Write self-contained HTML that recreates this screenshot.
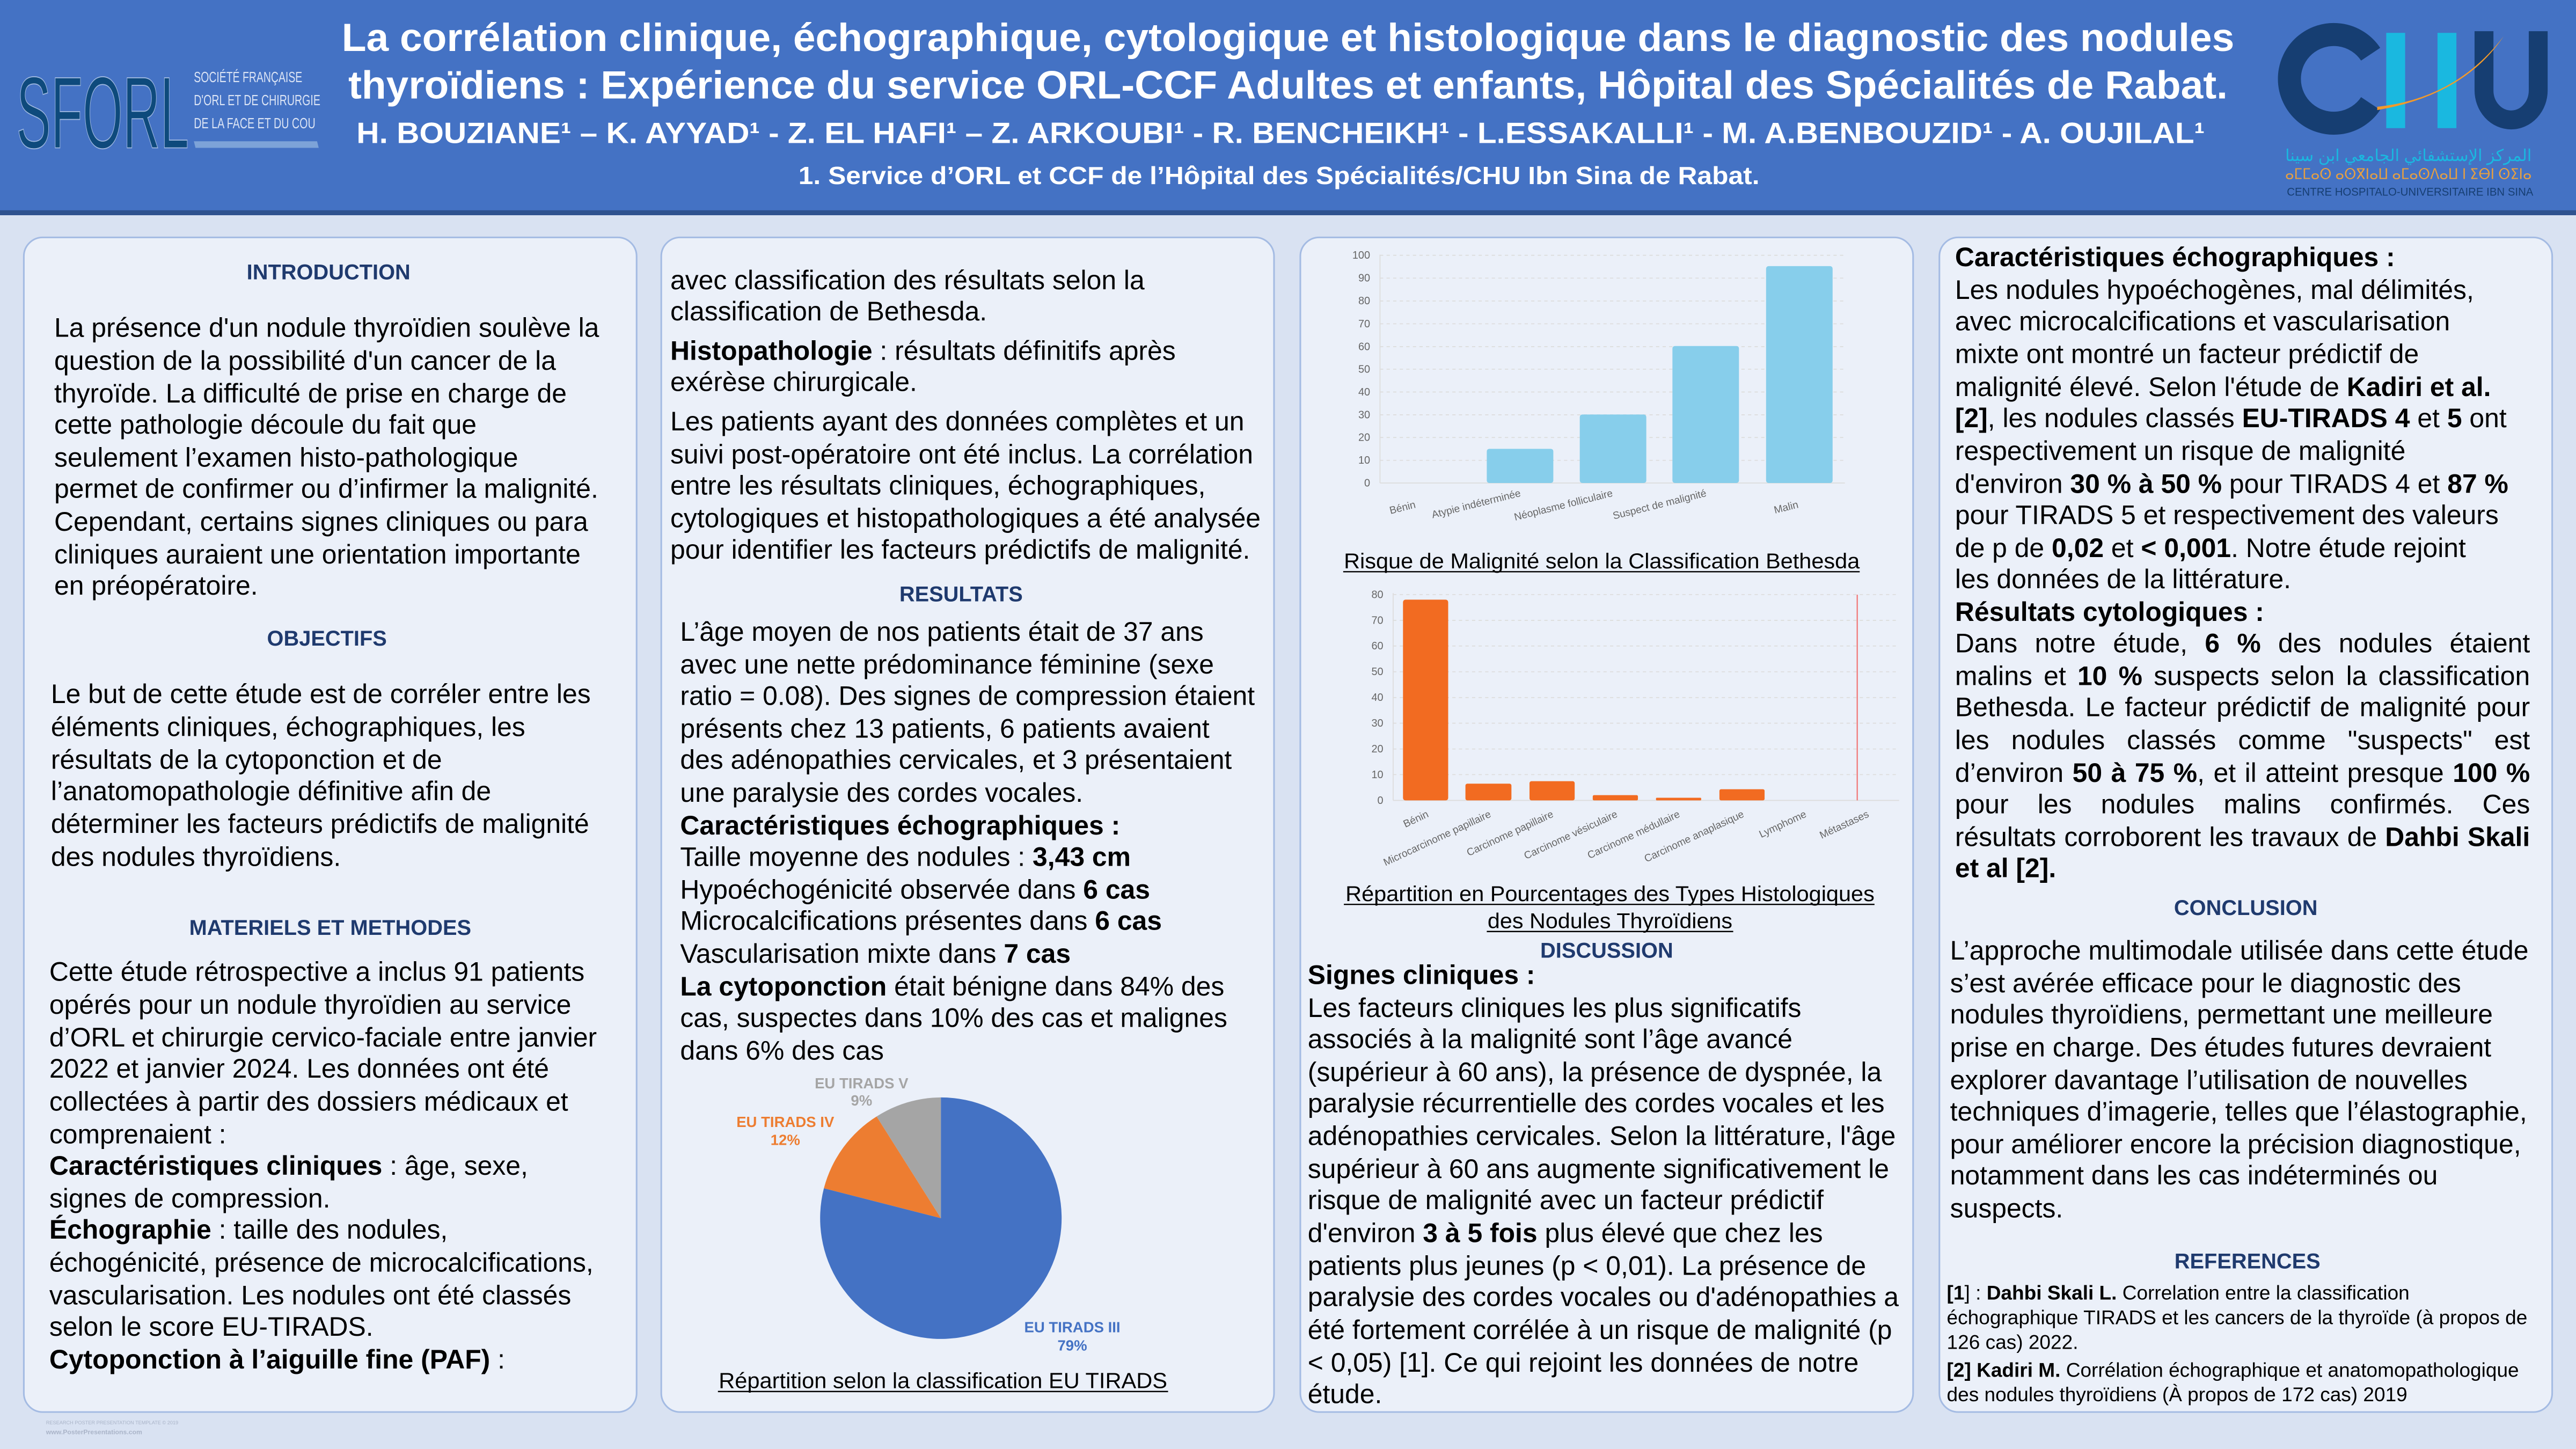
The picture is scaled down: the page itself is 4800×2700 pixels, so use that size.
<!DOCTYPE html>
<html><head><meta charset="utf-8">
<style>
html,body{margin:0;padding:0;width:4800px;height:2700px;overflow:hidden;background:#d9e2f2;}
#w{position:absolute;left:0;top:0;width:1568px;height:882px;transform:scale(3.0612245);transform-origin:0 0;font-family:"Liberation Sans",Arial,sans-serif;color:#000;}
.hdr{position:absolute;left:0;top:0;width:1568px;height:128px;background:#4472c4;border-bottom:3px solid #2f528f;}
.p{position:absolute;top:144px;height:716px;background:#ebf0f9;border:1px solid #a4bbe3;border-radius:12px;box-sizing:border-box;}
.l{position:absolute;white-space:nowrap;font-size:16.3px;line-height:20px;height:20px;}
.h{position:absolute;font-size:13px;font-weight:bold;color:#1f3a6e;line-height:16px;transform:translateX(-50%);white-space:nowrap;}
.j{width:350px;text-align:justify;text-align-last:justify;}
.r{position:absolute;white-space:nowrap;font-size:12.1px;line-height:15px;}
svg text{font-family:"Liberation Sans",Arial,sans-serif;}
</style></head><body><div id="w">
<div class="hdr"></div>
<svg style="position:absolute;left:0;top:0" width="1568" height="130">
 <text x="10" y="90" font-size="62" fill="#0e4a7c" textLength="105" lengthAdjust="spacingAndGlyphs" stroke="#9fb8e0" stroke-width="0.6">SFORL</text>
 <text x="118" y="50" font-size="9" fill="#dbe4f5" textLength="66" lengthAdjust="spacingAndGlyphs">SOCIÉTÉ FRANÇAISE</text>
 <text x="118" y="64" font-size="9" fill="#dbe4f5" textLength="77" lengthAdjust="spacingAndGlyphs">D'ORL ET DE CHIRURGIE</text>
 <text x="118" y="78" font-size="9" fill="#dbe4f5" textLength="74" lengthAdjust="spacingAndGlyphs">DE LA FACE ET DU COU</text>
 <polygon points="118,86 193,86 194,90 119,90" fill="#7da3d8"/>
 <text x="208" y="31" font-size="24" font-weight="bold" fill="#fff" textLength="1152" lengthAdjust="spacingAndGlyphs">La corrélation clinique, échographique, cytologique et histologique dans le diagnostic des nodules</text>
 <text x="212" y="60" font-size="24" font-weight="bold" fill="#fff" textLength="1144" lengthAdjust="spacingAndGlyphs">thyroïdiens : Expérience du service ORL-CCF Adultes et enfants, Hôpital des Spécialités de Rabat.</text>
 <text x="217" y="87" font-size="18" font-weight="bold" fill="#fff" textLength="1125" lengthAdjust="spacingAndGlyphs">H. BOUZIANE¹ – K. AYYAD¹ - Z. EL HAFI¹ – Z. ARKOUBI¹ -  R. BENCHEIKH¹ - L.ESSAKALLI¹ - M. A.BENBOUZID¹ - A. OUJILAL¹</text>
 <text x="486" y="112" font-size="15" font-weight="bold" fill="#fff" textLength="585" lengthAdjust="spacingAndGlyphs">1. Service d’ORL et CCF de l’Hôpital des Spécialités/CHU Ibn Sina de Rabat.</text>
 <path d="M1443,33 A27,27 0 1 0 1443,63" fill="none" stroke="#163e72" stroke-width="14"/>
 <rect x="1452.5" y="20" width="11.5" height="58" fill="#1ab8e0"/>
 <rect x="1483.7" y="20" width="11.5" height="58" fill="#1ab8e0"/>
 <path d="M1512,19 V55 A16.5,18 0 0 0 1545,55 V19" fill="none" stroke="#163e72" stroke-width="11.5"/>
 <path d="M1447,65 Q1495,60 1524,22 Q1500,58 1447,67 Z" fill="#f39a2a"/>
 <text x="1466" y="98" font-size="10" fill="#1ab8e0" text-anchor="middle" textLength="150" lengthAdjust="spacingAndGlyphs">المركز الإستشفائي الجامعي ابن سينا</text>
 <text x="1466" y="109" font-size="9" fill="#e8a040" text-anchor="middle" textLength="150" lengthAdjust="spacingAndGlyphs">ⴰⵎⵎⴰⵙ ⴰⵙⴳⵏⴰⵡ ⴰⵎⴰⵙⴷⴰⵡ ⵏ ⵉⴱⵏ ⵙⵉⵏⴰ</text>
 <text x="1392" y="119" font-size="7" fill="#163e72" textLength="150" lengthAdjust="spacingAndGlyphs">CENTRE HOSPITALO-UNIVERSITAIRE IBN SINA</text>
</svg>

<div class="p" style="left:14px;width:374px"></div>
<div class="p" style="left:402px;width:374px"></div>
<div class="p" style="left:791px;width:374px"></div>
<div class="p" style="left:1180px;width:374px"></div>

<div class="h" style="left:200px;top:158px">INTRODUCTION</div>
<div class="l" style="left:33px;top:190px">La présence d'un nodule thyroïdien soulève la</div>
<div class="l" style="left:33px;top:210px">question de la possibilité d'un cancer de la</div>
<div class="l" style="left:33px;top:230px">thyroïde. La difficulté de prise en charge de</div>
<div class="l" style="left:33px;top:249px">cette pathologie découle du fait que</div>
<div class="l" style="left:33px;top:269px">seulement l’examen histo-pathologique</div>
<div class="l" style="left:33px;top:288px">permet de confirmer ou d’infirmer la malignité.</div>
<div class="l" style="left:33px;top:308px">Cependant, certains signes cliniques ou para</div>
<div class="l" style="left:33px;top:328px">cliniques auraient une orientation importante</div>
<div class="l" style="left:33px;top:347px">en préopératoire.</div>
<div class="h" style="left:199px;top:381px">OBJECTIFS</div>
<div class="l" style="left:31px;top:413px">Le but de cette étude est de corréler entre les</div>
<div class="l" style="left:31px;top:433px">éléments cliniques, échographiques, les</div>
<div class="l" style="left:31px;top:453px">résultats de la cytoponction et de</div>
<div class="l" style="left:31px;top:472px">l’anatomopathologie définitive afin de</div>
<div class="l" style="left:31px;top:492px">déterminer les facteurs prédictifs de malignité</div>
<div class="l" style="left:31px;top:512px">des nodules thyroïdiens.</div>
<div class="h" style="left:201px;top:557px">MATERIELS ET METHODES</div>
<div class="l" style="left:30px;top:582px">Cette étude rétrospective a inclus 91 patients</div>
<div class="l" style="left:30px;top:602px">opérés pour un nodule thyroïdien au service</div>
<div class="l" style="left:30px;top:622px">d’ORL et chirurgie cervico-faciale entre janvier</div>
<div class="l" style="left:30px;top:641px">2022 et janvier 2024. Les données ont été</div>
<div class="l" style="left:30px;top:661px">collectées à partir des dossiers médicaux et</div>
<div class="l" style="left:30px;top:681px">comprenaient :</div>
<div class="l" style="left:30px;top:700px"><b>Caractéristiques cliniques</b> : âge, sexe,</div>
<div class="l" style="left:30px;top:720px">signes de compression.</div>
<div class="l" style="left:30px;top:739px"><b>Échographie</b> : taille des nodules,</div>
<div class="l" style="left:30px;top:759px">échogénicité, présence de microcalcifications,</div>
<div class="l" style="left:30px;top:779px">vascularisation. Les nodules ont été classés</div>
<div class="l" style="left:30px;top:798px">selon le score EU-TIRADS.</div>
<div class="l" style="left:30px;top:818px"><b>Cytoponction à l’aiguille fine (PAF)</b> :</div>
<div style="position:absolute;left:28px;top:864px;font-size:3px;color:#aab4c8;white-space:nowrap">RESEARCH POSTER PRESENTATION TEMPLATE © 2019</div>
<div style="position:absolute;left:28px;top:868.5px;font-size:4px;color:#aab4c8;font-weight:bold;white-space:nowrap">www.PosterPresentations.com</div>

<div class="l" style="left:408px;top:161px">avec classification des résultats selon la</div>
<div class="l" style="left:408px;top:180px">classification de Bethesda.</div>
<div class="l" style="left:408px;top:204px"><b>Histopathologie</b> : résultats définitifs après</div>
<div class="l" style="left:408px;top:223px">exérèse chirurgicale.</div>
<div class="l" style="left:408px;top:247px">Les patients ayant des données complètes et un</div>
<div class="l" style="left:408px;top:267px">suivi post-opératoire ont été inclus. La corrélation</div>
<div class="l" style="left:408px;top:286px">entre les résultats cliniques, échographiques,</div>
<div class="l" style="left:408px;top:306px">cytologiques et histopathologiques a été analysée</div>
<div class="l" style="left:408px;top:325px">pour identifier les facteurs prédictifs de malignité.</div>
<div class="h" style="left:585px;top:354px">RESULTATS</div>
<div class="l" style="left:414px;top:375px">L’âge moyen de nos patients était de 37 ans</div>
<div class="l" style="left:414px;top:395px">avec une nette prédominance féminine (sexe</div>
<div class="l" style="left:414px;top:414px">ratio = 0.08). Des signes de compression étaient</div>
<div class="l" style="left:414px;top:434px">présents chez 13 patients, 6 patients avaient</div>
<div class="l" style="left:414px;top:453px">des adénopathies cervicales, et 3 présentaient</div>
<div class="l" style="left:414px;top:473px">une paralysie des cordes vocales.</div>
<div class="l" style="left:414px;top:493px"><b>Caractéristiques échographiques :</b></div>
<div class="l" style="left:414px;top:512px">Taille moyenne des nodules : <b>3,43 cm</b></div>
<div class="l" style="left:414px;top:532px">Hypoéchogénicité observée dans <b>6 cas</b></div>
<div class="l" style="left:414px;top:551px">Microcalcifications présentes dans <b>6 cas</b></div>
<div class="l" style="left:414px;top:571px">Vascularisation mixte dans <b>7 cas</b></div>
<div class="l" style="left:414px;top:591px"><b>La cytoponction</b> était bénigne dans 84% des</div>
<div class="l" style="left:414px;top:610px">cas, suspectes dans 10% des cas et malignes</div>
<div class="l" style="left:414px;top:630px">dans 6% des cas</div>
<svg style="position:absolute;left:402px;top:640px" width="374" height="220">
 <g transform="translate(-402,-640)">
 <path d="M572.7,741.5 L572.7,668 A73.5,73.5 0 1 1 501.5,723.3 Z" fill="#4472c4"/>
 <path d="M572.7,741.5 L501.5,723.3 A73.5,73.5 0 0 1 533.6,679.6 Z" fill="#ed7d31"/>
 <path d="M572.7,741.5 L533.6,679.6 A73.5,73.5 0 0 1 572.7,668 Z" fill="#a5a5a5"/>
 <g font-size="9" font-weight="bold" text-anchor="middle">
 <text x="524.4" y="662.5" fill="#a5a5a5">EU TIRADS V</text>
 <text x="524.4" y="673" fill="#a5a5a5">9%</text>
 <text x="478" y="686" fill="#ed7d31">EU TIRADS IV</text>
 <text x="478" y="697" fill="#ed7d31">12%</text>
 <text x="652.7" y="811" fill="#4472c4">EU TIRADS III</text>
 <text x="652.7" y="822" fill="#4472c4">79%</text>
 </g>
 <text x="574" y="845" font-size="13.2" text-anchor="middle" textLength="273" lengthAdjust="spacingAndGlyphs">Répartition selon la classification EU TIRADS</text>
 <line x1="437" y1="847" x2="711" y2="847" stroke="#000" stroke-width="0.8"/>
 </g>
</svg>

<svg style="position:absolute;left:791px;top:144px" width="374" height="430">
 <g transform="translate(-791,-144)" font-size="6.5" fill="#666">
  <g stroke="#ddd" stroke-width="0.6" stroke-dasharray="2,2">
   <line x1="840" x2="1123" y1="155.4" y2="155.4"/><line x1="840" x2="1123" y1="169.3" y2="169.3"/><line x1="840" x2="1123" y1="183.2" y2="183.2"/><line x1="840" x2="1123" y1="197.1" y2="197.1"/><line x1="840" x2="1123" y1="211" y2="211"/><line x1="840" x2="1123" y1="224.7" y2="224.7"/><line x1="840" x2="1123" y1="238.6" y2="238.6"/><line x1="840" x2="1123" y1="252.5" y2="252.5"/><line x1="840" x2="1123" y1="266.3" y2="266.3"/><line x1="840" x2="1123" y1="280.2" y2="280.2"/>
  </g>
  <line x1="840" x2="840" y1="155" y2="294" stroke="#ddd" stroke-width="0.6"/>
  <line x1="840" x2="1123" y1="294" y2="294" stroke="#ddd" stroke-width="0.6"/>
  <g text-anchor="end">
   <text x="834" y="157.5">100</text><text x="834" y="171.4">90</text><text x="834" y="185.3">80</text><text x="834" y="199.2">70</text><text x="834" y="213.1">60</text><text x="834" y="226.9">50</text><text x="834" y="240.7">40</text><text x="834" y="254.6">30</text><text x="834" y="268.4">20</text><text x="834" y="282.3">10</text><text x="834" y="296.1">0</text>
  </g>
  <g fill="#87ceeb">
   <rect x="905" y="273.2" width="40.5" height="20.8" rx="1.5"/>
   <rect x="961.6" y="252.3" width="40.5" height="41.7" rx="1.5"/>
   <rect x="1018" y="210.6" width="40.5" height="83.4" rx="1.5"/>
   <rect x="1075" y="162" width="40.5" height="132" rx="1.5"/>
  </g>
  <g font-size="6.3">
   <text transform="translate(862,309) rotate(-14)" text-anchor="end">Bénin</text>
   <text transform="translate(926,302) rotate(-14)" text-anchor="end">Atypie indéterminée</text>
   <text transform="translate(982,302) rotate(-14)" text-anchor="end">Néoplasme folliculaire</text>
   <text transform="translate(1039,302) rotate(-14)" text-anchor="end">Suspect de malignité</text>
   <text transform="translate(1095,309) rotate(-14)" text-anchor="end">Malin</text>
  </g>
  <text x="975" y="346" font-size="13" fill="#000" text-anchor="middle" textLength="314" lengthAdjust="spacingAndGlyphs">Risque de Malignité selon la Classification Bethesda</text>
  <line x1="817.6" x2="1132" y1="348" y2="348" stroke="#000" stroke-width="0.8"/>

  <g stroke="#ddd" stroke-width="0.6" stroke-dasharray="2,2">
   <line x1="848" x2="1156" y1="361.9" y2="361.9"/><line x1="848" x2="1156" y1="377.6" y2="377.6"/><line x1="848" x2="1156" y1="393.2" y2="393.2"/><line x1="848" x2="1156" y1="408.9" y2="408.9"/><line x1="848" x2="1156" y1="424.6" y2="424.6"/><line x1="848" x2="1156" y1="440.2" y2="440.2"/><line x1="848" x2="1156" y1="455.9" y2="455.9"/><line x1="848" x2="1156" y1="471.5" y2="471.5"/>
  </g>
  <line x1="848" x2="848" y1="361" y2="487.2" stroke="#ddd" stroke-width="0.6"/>
  <line x1="848" x2="1156" y1="487.2" y2="487.2" stroke="#ddd" stroke-width="0.6"/>
  <g text-anchor="end">
   <text x="842" y="364">80</text><text x="842" y="379.7">70</text><text x="842" y="395.3">60</text><text x="842" y="411">50</text><text x="842" y="426.7">40</text><text x="842" y="442.3">30</text><text x="842" y="458">20</text><text x="842" y="473.6">10</text><text x="842" y="489.3">0</text>
  </g>
  <g fill="#f26b21">
   <rect x="854" y="365" width="27.5" height="122.2" rx="1.5"/>
   <rect x="892" y="477" width="28" height="10.2" rx="1.2"/>
   <rect x="931" y="475.5" width="27.5" height="11.7" rx="1.2"/>
   <rect x="969.5" y="484" width="27.5" height="3.2" rx="0.8"/>
   <rect x="1008" y="485.6" width="27.5" height="1.6" rx="0.5"/>
   <rect x="1046.6" y="480.4" width="27.5" height="6.8" rx="1"/>
  </g>
  <line x1="1130.5" x2="1130.5" y1="362" y2="487.2" stroke="#f08080" stroke-width="0.8"/>
  <g font-size="6.3">
   <text transform="translate(870,497) rotate(-25)" text-anchor="end">Bénin</text>
   <text transform="translate(908,497) rotate(-25)" text-anchor="end">Microcarcinome papillaire</text>
   <text transform="translate(946,497) rotate(-25)" text-anchor="end">Carcinome papillaire</text>
   <text transform="translate(985,497) rotate(-25)" text-anchor="end">Carcinome vésiculaire</text>
   <text transform="translate(1023,497) rotate(-25)" text-anchor="end">Carcinome médullaire</text>
   <text transform="translate(1062,497) rotate(-25)" text-anchor="end">Carcinome anaplasique</text>
   <text transform="translate(1100,497) rotate(-25)" text-anchor="end">Lymphome</text>
   <text transform="translate(1138,497) rotate(-25)" text-anchor="end">Métastases</text>
  </g>
  <text x="980" y="548.5" font-size="13" fill="#000" text-anchor="middle" textLength="322" lengthAdjust="spacingAndGlyphs">Répartition en Pourcentages des Types Histologiques</text>
  <line x1="818" x2="1141" y1="550.5" y2="550.5" stroke="#000" stroke-width="0.8"/>
  <text x="980" y="565" font-size="13" fill="#000" text-anchor="middle" textLength="149" lengthAdjust="spacingAndGlyphs">des Nodules Thyroïdiens</text>
  <line x1="905" x2="1055" y1="567" y2="567" stroke="#000" stroke-width="0.8"/>
 </g>
</svg>
<div class="h" style="left:978px;top:571px">DISCUSSION</div>
<div class="l" style="left:796px;top:584px"><b>Signes cliniques :</b></div>
<div class="l" style="left:796px;top:604px">Les facteurs cliniques les plus significatifs</div>
<div class="l" style="left:796px;top:623px">associés à la malignité sont l’âge avancé</div>
<div class="l" style="left:796px;top:643px">(supérieur à 60 ans), la présence de dyspnée, la</div>
<div class="l" style="left:796px;top:662px">paralysie récurrentielle des cordes vocales et les</div>
<div class="l" style="left:796px;top:682px">adénopathies cervicales. Selon la littérature, l'âge</div>
<div class="l" style="left:796px;top:702px">supérieur à 60 ans augmente significativement le</div>
<div class="l" style="left:796px;top:721px">risque de malignité avec un facteur prédictif</div>
<div class="l" style="left:796px;top:741px">d'environ <b>3 à 5 fois</b> plus élevé que chez les</div>
<div class="l" style="left:796px;top:761px">patients plus jeunes (p &lt; 0,01). La présence de</div>
<div class="l" style="left:796px;top:780px">paralysie des cordes vocales ou d'adénopathies a</div>
<div class="l" style="left:796px;top:800px">été fortement corrélée à un risque de malignité (p</div>
<div class="l" style="left:796px;top:820px">&lt; 0,05) [1]. Ce qui rejoint les données de notre</div>
<div class="l" style="left:796px;top:839px">étude.</div>

<div class="l" style="left:1190px;top:147px"><b>Caractéristiques échographiques :</b></div>
<div class="l" style="left:1190px;top:167px">Les nodules hypoéchogènes, mal délimités,</div>
<div class="l" style="left:1190px;top:186px">avec microcalcifications et vascularisation</div>
<div class="l" style="left:1190px;top:206px">mixte ont montré un facteur prédictif de</div>
<div class="l" style="left:1190px;top:226px">malignité élevé. Selon l'étude de <b>Kadiri et al.</b></div>
<div class="l" style="left:1190px;top:245px"><b>[2]</b>, les nodules classés <b>EU-TIRADS 4</b> et <b>5</b> ont</div>
<div class="l" style="left:1190px;top:265px">respectivement un risque de malignité</div>
<div class="l" style="left:1190px;top:285px">d'environ <b>30 % à 50 %</b> pour TIRADS 4 et <b>87 %</b></div>
<div class="l" style="left:1190px;top:304px">pour TIRADS 5 et respectivement des valeurs</div>
<div class="l" style="left:1190px;top:324px">de p de <b>0,02</b> et <b>&lt; 0,001</b>.  Notre étude rejoint</div>
<div class="l" style="left:1190px;top:343px">les données de la littérature.</div>
<div class="l" style="left:1190px;top:363px"><b>Résultats cytologiques :</b></div>
<div class="l j" style="left:1190px;top:382px">Dans notre étude, <b>6 %</b> des nodules étaient</div>
<div class="l j" style="left:1190px;top:402px">malins et <b>10 %</b> suspects selon la classification</div>
<div class="l j" style="left:1190px;top:421px">Bethesda. Le facteur prédictif de malignité pour</div>
<div class="l j" style="left:1190px;top:441px">les nodules classés comme "suspects" est</div>
<div class="l j" style="left:1190px;top:461px">d’environ <b>50 à 75 %</b>, et il atteint presque <b>100 %</b></div>
<div class="l j" style="left:1190px;top:480px">pour les nodules malins confirmés. Ces</div>
<div class="l j" style="left:1190px;top:500px">résultats corroborent les travaux de <b>Dahbi Skali</b></div>
<div class="l" style="left:1190px;top:519px"><b>et al [2].</b></div>
<div class="h" style="left:1367px;top:545px">CONCLUSION</div>
<div class="l" style="left:1187px;top:569px">L’approche multimodale utilisée dans cette étude</div>
<div class="l" style="left:1187px;top:589px">s’est avérée efficace pour le diagnostic des</div>
<div class="l" style="left:1187px;top:608px">nodules thyroïdiens, permettant une meilleure</div>
<div class="l" style="left:1187px;top:628px">prise en charge. Des études futures devraient</div>
<div class="l" style="left:1187px;top:648px">explorer davantage l’utilisation de nouvelles</div>
<div class="l" style="left:1187px;top:667px">techniques d’imagerie, telles que l’élastographie,</div>
<div class="l" style="left:1187px;top:687px">pour améliorer encore la précision diagnostique,</div>
<div class="l" style="left:1187px;top:706px">notamment dans les cas indéterminés ou</div>
<div class="l" style="left:1187px;top:726px">suspects.</div>
<div class="h" style="left:1368px;top:760px">REFERENCES</div>
<div class="r" style="left:1185px;top:780px"><b>[1</b>] : <b>Dahbi Skali L.</b> Correlation entre la classification</div>
<div class="r" style="left:1185px;top:795px">échographique TIRADS et les cancers de la thyroïde (à propos de</div>
<div class="r" style="left:1185px;top:810px">126 cas) 2022.</div>
<div class="r" style="left:1185px;top:827px"><b>[2] Kadiri M.</b> Corrélation échographique et anatomopathologique</div>
<div class="r" style="left:1185px;top:842px">des nodules thyroïdiens (À propos de 172 cas) 2019</div>
</div></body></html>
